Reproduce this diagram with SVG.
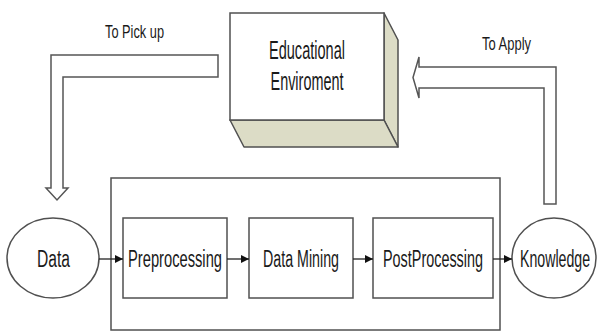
<svg xmlns="http://www.w3.org/2000/svg" width="597" height="331" viewBox="0 0 597 331">
<defs>
<style>
.ln{fill:none;stroke:#505050;stroke-width:1.5}
.bx{fill:#fff;stroke:#505050;stroke-width:1.5}
.side{fill:#dcdcc6;stroke:#505050;stroke-width:1.5;stroke-linejoin:round}
.blk{fill:#fff;stroke:#555;stroke-width:1.5;stroke-linejoin:miter}
.t{font-family:"Liberation Sans",Arial,sans-serif;fill:#1a1a1a;text-anchor:middle}
.cn{stroke:#222;stroke-width:1.3;fill:none}
</style>
<marker id="ah" viewBox="0 0 10 10" refX="10" refY="5" markerWidth="8" markerHeight="8" markerUnits="userSpaceOnUse" orient="auto">
<path d="M0,0 L10,5 L0,10 Z" fill="#111"/>
</marker>
</defs>
<rect width="597" height="331" fill="#fff"/>

<g id="container">
<rect x="111" y="178" width="389" height="152" class="ln" stroke="#606060"/>
</g>

<g id="env">
<polygon points="384,13 398,40 398,147 384,120" class="side"/>
<polygon points="230,120 384,120 398,147 244,147" class="side"/>
<rect x="230" y="13" width="154" height="107" class="bx"/>
<text class="t" x="307" y="59" font-size="25" textLength="76" lengthAdjust="spacingAndGlyphs">Educational</text>
<text class="t" x="307" y="90" font-size="25" textLength="73" lengthAdjust="spacingAndGlyphs">Enviroment</text>
</g>

<g id="pickup">
<polygon points="218,55 51,55 51,188 46,188 57,200 68,188 63,188 63,77 218,77" class="blk"/>
<text class="t" x="134.5" y="38" font-size="19" textLength="59" lengthAdjust="spacingAndGlyphs">To Pick up</text>
</g>

<g id="apply">
<polygon points="556,204 556,67 419,67 419,57 413,77.5 419,98 419,88 544,88 544,204" class="blk"/>
<text class="t" x="506.5" y="49.5" font-size="19" textLength="49" lengthAdjust="spacingAndGlyphs">To Apply</text>
</g>

<g id="data">
<ellipse cx="53" cy="258" rx="46" ry="40" class="bx"/>
<text class="t" x="53.5" y="267" font-size="23" textLength="33" lengthAdjust="spacingAndGlyphs">Data</text>
</g>

<g id="preprocessing">
<rect x="123" y="218" width="104" height="80" class="bx"/>
<text class="t" x="175" y="267" font-size="23" textLength="94" lengthAdjust="spacingAndGlyphs">Preprocessing</text>
</g>

<g id="datamining">
<rect x="249" y="218" width="104" height="80" class="bx"/>
<text class="t" x="301" y="267" font-size="23" textLength="76" lengthAdjust="spacingAndGlyphs">Data Mining</text>
</g>

<g id="postprocessing">
<rect x="373" y="218" width="120" height="80" class="bx"/>
<text class="t" x="433" y="267" font-size="23" textLength="100" lengthAdjust="spacingAndGlyphs">PostProcessing</text>
</g>

<g id="knowledge">
<ellipse cx="554" cy="258" rx="42" ry="40" class="bx"/>
<text class="t" x="555" y="267" font-size="23" textLength="70" lengthAdjust="spacingAndGlyphs">Knowledge</text>
</g>

<g id="connectors">
<line x1="99" y1="259" x2="123" y2="259" class="cn" marker-end="url(#ah)"/>
<line x1="227" y1="259" x2="249" y2="259" class="cn" marker-end="url(#ah)"/>
<line x1="353" y1="259" x2="373" y2="259" class="cn" marker-end="url(#ah)"/>
<line x1="493" y1="259" x2="512" y2="259" class="cn" marker-end="url(#ah)"/>
</g>
</svg>
